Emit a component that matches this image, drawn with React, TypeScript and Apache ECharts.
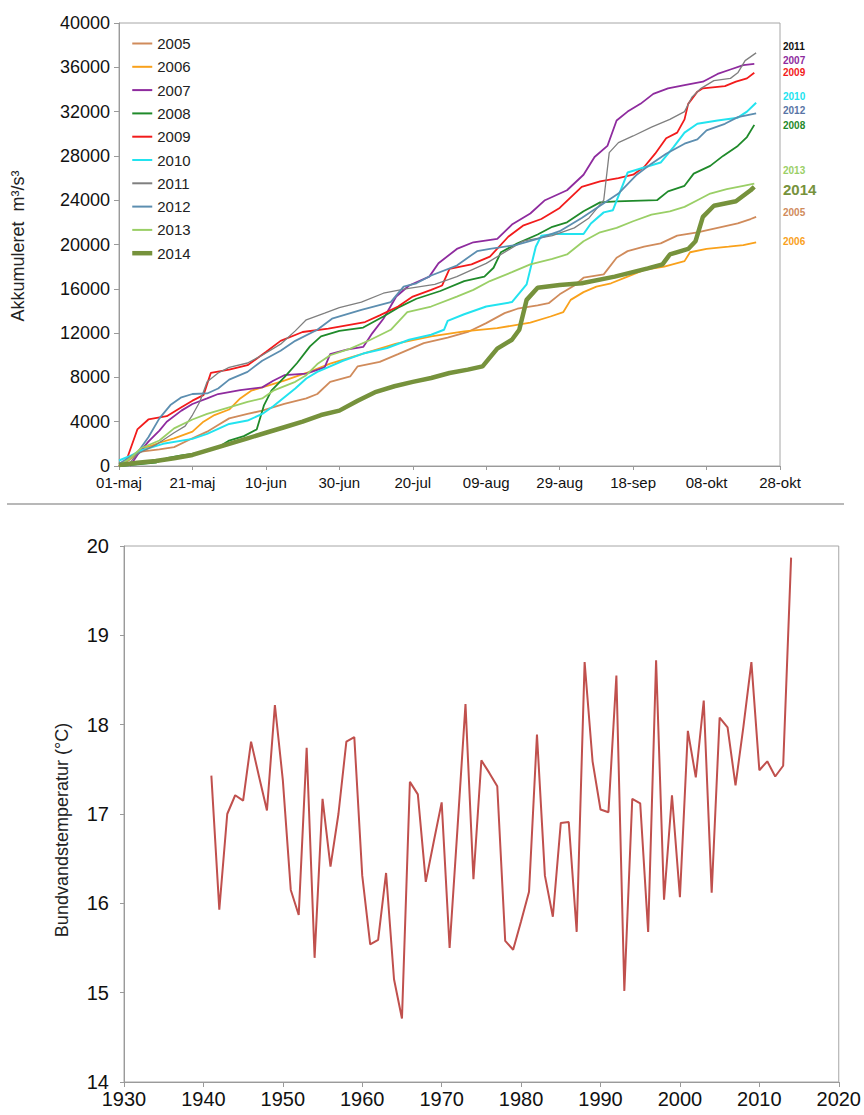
import React, { useEffect, useRef } from "react";
import * as echarts from "echarts";

// ---------- Top chart: accumulated discharge (day since 01-maj, m3/s3) ----------
const DATE_TICKS = ["01-maj", "21-maj", "10-jun", "30-jun", "20-jul", "09-aug", "29-aug", "18-sep", "08-okt", "28-okt"];

const flow2005 = [[0,0],[3,600],[6,1300],[11,1500],[15,1700],[20,2500],[24,3100],[27,3700],[30,4300],[35,4700],[39,5000],[45,5600],[51,6100],[54,6500],[57.5,7600],[63,8100],[65,9000],[71,9400],[76,10100],[83,11100],[89.5,11600],[95,12100],[100,12900],[105,13800],[108.5,14200],[114,14500],[117,14700],[120,15500],[124,16300],[126.5,17000],[132,17300],[135.5,18800],[138.5,19400],[143,19800],[147.5,20100],[152,20800],[157.5,21100],[163,21500],[168.5,21900],[172,22300],[173.5,22500]];
const flow2006 = [[0,0],[3,700],[6,1500],[11,2100],[15,2500],[20,3100],[23,4000],[26,4600],[30,5100],[33,6100],[36,6800],[39,7100],[45,7700],[51,8400],[57.5,9250],[66.5,10150],[75.5,11050],[85,11700],[94,12150],[103,12450],[112,12950],[117.5,13500],[121,13900],[123,15000],[126.5,15700],[130,16200],[134,16500],[138.5,17100],[143,17700],[148.5,18000],[154,18500],[155.5,19300],[160,19600],[166,19800],[170,19950],[173.5,20200]];
const flow2007 = [[3,0],[5,1000],[8,2200],[11,3200],[13,4000],[17,5000],[20,5600],[24,6100],[27,6500],[33,6850],[39,7100],[42,7700],[45,8200],[51,8350],[56,8900],[57.5,10100],[62,10500],[66.5,10750],[69,12000],[72,13300],[75.5,15300],[79,16300],[84.5,17100],[87,18300],[92,19600],[96.5,20200],[103,20500],[107,21800],[112,22800],[116,24000],[122,24900],[126.5,26300],[129.5,27900],[133,28900],[135.5,31200],[138.5,32000],[142,32700],[145.5,33600],[149.5,34100],[154,34400],[159,34700],[163,35400],[166.5,35800],[170,36200],[173,36300]];
const flow2008 = [[0,0],[5,150],[10,300],[13,700],[17,950],[20,1100],[24,1400],[27,1700],[30,2300],[34,2700],[37.5,3300],[39.5,5500],[41.5,6800],[45,8000],[48.5,9300],[52,10800],[55,11700],[60,12200],[66.5,12500],[72,13500],[76,14300],[81,15100],[87.5,15800],[94,16700],[99.5,17100],[102,17900],[104,19300],[108.5,20100],[114,20900],[118,21600],[122,22000],[126.5,23000],[131,23800],[135.5,23900],[146.5,24000],[149.5,24800],[154,25300],[156.5,26400],[161,27100],[164.5,28000],[168.5,28900],[171,29700],[173,30800]];
const flow2009 = [[0,0],[2,500],[5,3300],[8,4200],[13,4500],[17,5300],[20,5900],[23,6400],[25,8400],[30,8700],[35,9100],[40,10300],[44,11300],[50,12100],[57,12400],[67,13000],[71,13600],[76,14400],[80,15300],[85,15900],[88,16300],[90,17800],[96,18200],[101,18900],[106,20700],[110,21700],[115,22300],[120,23300],[126,25200],[131,25700],[136,26000],[140,26300],[143,27000],[146,28200],[149,29600],[152,30100],[154,31300],[155,32700],[157.5,33800],[159,34100],[165,34300],[168,34700],[171,35000],[173,35500]];
const flow2010 = [[0,500],[3,900],[6,1400],[12,2000],[20,2450],[24,2900],[27,3350],[30,3800],[35,4100],[39,4700],[42,5400],[48,7000],[51,7900],[54,8500],[57.5,9000],[61,9500],[66.5,10150],[73,10650],[79,11400],[85,11850],[88.5,12300],[89.5,13100],[94,13700],[100,14400],[107,14800],[111,16400],[113.5,19800],[115,20800],[118.5,20950],[126.5,20950],[128.5,21900],[132,22900],[134.5,23100],[138.5,26500],[143,26950],[147.5,27400],[151,28800],[154,30100],[157.5,30900],[163,31200],[168.5,31450],[171,32000],[173.5,32800]];
const flow2011 = [[0,0],[3,300],[5,1100],[10,1900],[15,3000],[18,3600],[20,4600],[22,5800],[24,7600],[27,8400],[30,8900],[35,9300],[39,10000],[44,11000],[48,12200],[51,13200],[56,13800],[60,14300],[66,14800],[72,15600],[78,16000],[86,16400],[92,17100],[100,18300],[110,20300],[118,20800],[124,21500],[128,22400],[132,24000],[133.5,28300],[136,29200],[140,29800],[145,30600],[150,31300],[154,32000],[156,33300],[158.5,34100],[162,34800],[166.5,35000],[168.5,35500],[170.5,36600],[173.5,37300]];
const flow2012 = [[0,200],[5,1200],[8,2600],[11,4300],[14,5500],[17,6200],[20,6500],[24,6550],[27,7000],[30,7800],[35,8500],[39,9500],[44,10400],[48,11300],[54,12300],[58,13300],[66,14100],[74,14800],[77.5,16200],[81,16500],[85,17200],[92,18100],[97.5,19400],[101,19600],[108,19950],[114,20500],[120,21200],[126,22400],[131,23500],[136,24600],[141,26300],[145,27300],[149,28200],[154,29100],[157.5,29500],[160,30300],[165,30900],[168.5,31500],[173.5,31850]];
const flow2013 = [[0,0],[3,700],[6,1600],[11,2300],[15,3400],[20,4200],[24,4700],[27,5000],[30,5300],[35,5800],[39,6100],[42,6800],[48,7600],[51,8200],[54,9200],[57.5,10000],[63,10600],[68.5,11400],[74,12300],[78.5,13900],[85,14400],[92,15300],[96.5,15900],[101,16700],[107,17500],[112,18200],[118,18700],[122,19100],[126.5,20300],[131,21100],[135.5,21500],[140,22100],[145,22700],[150,23000],[154,23400],[157.5,24000],[161,24600],[165.5,25000],[170,25300],[173,25500]];
const flow2014 = [[0,100],[5,300],[10,450],[15,700],[20,1000],[25,1500],[30,2000],[35,2500],[40,3000],[45,3500],[50,4000],[55,4600],[60,5000],[65,5900],[70,6700],[75,7200],[80,7600],[85,7950],[90,8400],[95,8700],[99,9000],[103,10600],[107,11400],[109,12300],[111,15000],[114,16100],[120,16350],[126,16500],[135,17100],[144,17850],[148,18200],[150,19100],[155,19600],[157,20300],[159,22500],[162,23500],[168,23900],[172,24900],[173,25200]];

const YEARS = ["2005", "2006", "2007", "2008", "2009", "2010", "2011", "2012", "2013", "2014"];
const FLOWS = [flow2005, flow2006, flow2007, flow2008, flow2009, flow2010, flow2011, flow2012, flow2013, flow2014];
const COLORS = ["#D08B5B", "#F9A11B", "#8E2B9E", "#1F8A2A", "#F21B1B", "#22E3EF", "#7F7F7F", "#5C8EB0", "#9ACF66", "#76923C"];
const WIDTHS = [1.8, 1.8, 1.8, 1.8, 1.8, 2, 1.3, 1.8, 1.8, 4.5];

// end labels at the right of the top chart
const END_LABELS = ["2011", "2007", "2009", "2010", "2012", "2008", "2013", "2014", "2005", "2006"];
const END_LABEL_COLORS = ["#111111", "#8E2B9E", "#F21B1B", "#22E3EF", "#5874A5", "#1F8A2A", "#9ACF66", "#76923C", "#D08B5B", "#F9A11B"];

// ---------- Bottom chart: bottom water temperature ----------
const FIRST_YEAR = 1941;
const temps = [
  17.43, 15.93, 17.0, 17.21, 17.15, 17.81, 17.42, 17.04, 18.22, 17.38,
  16.15, 15.87, 17.74, 15.39, 17.17, 16.41, 17.0, 17.81, 17.86, 16.31,
  15.54, 15.59, 16.34, 15.15, 14.71, 17.36, 17.22, 16.24, 16.69, 17.13,
  15.5, 16.85, 18.23, 16.27, 17.6, 17.46, 17.31, 15.58, 15.48, 15.8,
  16.13, 17.89, 16.31, 15.85, 16.9, 16.91, 15.68, 18.7, 17.59, 17.05,
  17.02, 18.55, 15.02, 17.17, 17.12, 15.68, 18.72, 16.04, 17.21, 16.07,
  17.93, 17.41, 18.27, 16.12, 18.08, 17.97, 17.32, 17.98, 18.7, 17.49,
  17.59, 17.42, 17.54, 19.87,
];

const FONT = "'Liberation Sans', Arial, sans-serif";

export default function App() {
  const ref = useRef<HTMLDivElement>(null);

  useEffect(() => {
    if (!ref.current) return;
    const chart = echarts.init(ref.current, undefined, { renderer: "svg" });

    const topSeries = YEARS.map((name, i) => ({
      name,
      type: "line",
      xAxisIndex: 0,
      yAxisIndex: 0,
      data: FLOWS[i],
      showSymbol: false,
      symbol: "none",
      lineStyle: { color: COLORS[i], width: WIDTHS[i] },
      itemStyle: { color: COLORS[i] },
      z: i === 9 ? 5 : 3,
    }));

    const tempData = temps.map((t, i) => [FIRST_YEAR + i, t]);

    const endLabelY = [46, 60, 72, 96, 110, 125, 170, 189, 212, 241];
    const endLabelGraphics = END_LABELS.map((t, i) => ({
      type: "text",
      x: 783,
      y: endLabelY[i],
      style: {
        text: t,
        fill: END_LABEL_COLORS[i],
        font: t === "2014" ? `bold 15px ${FONT}` : `bold 10px ${FONT}`,
        verticalAlign: "middle",
        align: "left",
      },
    }));

    const axisLineStyle = { color: "#9a9a9a", width: 1 };

    chart.setOption({
      animation: false,
      backgroundColor: "#ffffff",
      textStyle: { fontFamily: FONT },
      grid: [
        { left: 119, top: 23, width: 661, height: 443, show: true, borderColor: "#a6a6a6", borderWidth: 1, backgroundColor: "transparent" },
        { left: 124, top: 546, width: 716, height: 536, show: true, borderColor: "#a6a6a6", borderWidth: 1, backgroundColor: "transparent" },
      ],
      legend: {
        data: YEARS.map((name, i) => ({ name, lineStyle: { width: i === 9 ? 4.5 : 2 } })),
        orient: "vertical",
        left: 130,
        top: 36,
        padding: 0,
        itemWidth: 20,
        itemHeight: 14,
        itemGap: 8.3,
        selectedMode: false,
        itemStyle: { opacity: 0 },
        textStyle: { fontSize: 15, color: "#222", lineHeight: 15, fontFamily: FONT },
      },
      xAxis: [
        {
          type: "value",
          gridIndex: 0,
          min: 0,
          max: 180,
          interval: 20,
          axisLine: { show: true, lineStyle: axisLineStyle },
          axisTick: { show: true, length: 4, lineStyle: axisLineStyle },
          axisLabel: {
            fontSize: 15,
            color: "#111",
            margin: 9,
            formatter: (v: number) => DATE_TICKS[Math.round(v / 20)] ?? "",
          },
          splitLine: { show: false },
        },
        {
          type: "value",
          gridIndex: 1,
          min: 1930,
          max: 2020,
          interval: 10,
          axisLine: { show: true, lineStyle: axisLineStyle },
          axisTick: { show: true, length: 5, lineStyle: axisLineStyle },
          axisLabel: { fontSize: 20, color: "#111", margin: 7, formatter: (v: number) => String(v) },
          splitLine: { show: false },
        },
      ],
      yAxis: [
        {
          type: "value",
          gridIndex: 0,
          min: 0,
          max: 40000,
          interval: 4000,
          axisLine: { show: true, lineStyle: axisLineStyle },
          axisTick: { show: true, length: 5, lineStyle: axisLineStyle },
          axisLabel: { fontSize: 18, color: "#111", margin: 9, formatter: (v: number) => String(v) },
          splitLine: { show: false },
        },
        {
          type: "value",
          gridIndex: 1,
          min: 14,
          max: 20,
          interval: 1,
          axisLine: { show: true, lineStyle: axisLineStyle },
          axisTick: { show: true, length: 4, lineStyle: axisLineStyle },
          axisLabel: { fontSize: 20, color: "#111", margin: 15, formatter: (v: number) => String(v) },
          splitLine: { show: false },
        },
      ],
      series: [
        ...topSeries,
        {
          name: "Bundvandstemperatur",
          type: "line",
          xAxisIndex: 1,
          yAxisIndex: 1,
          data: tempData,
          showSymbol: false,
          symbol: "none",
          lineStyle: { color: "#C0504D", width: 2 },
          itemStyle: { color: "#C0504D" },
        },
      ],
      graphic: [
        {
          type: "line",
          shape: { x1: 7, y1: 504, x2: 844, y2: 504 },
          style: { stroke: "#a0a0a0", lineWidth: 1.5 },
        },
        {
          type: "text",
          x: 18,
          y: 246,
          rotation: Math.PI / 2,
          style: {
            text: "Akkumuleret  m³/s³",
            fill: "#222",
            font: `18px ${FONT}`,
            align: "center",
            verticalAlign: "middle",
          },
        },
        {
          type: "text",
          x: 62,
          y: 830,
          rotation: Math.PI / 2,
          style: {
            text: "Bundvandstemperatur (°C)",
            fill: "#222",
            font: `18px ${FONT}`,
            align: "center",
            verticalAlign: "middle",
          },
        },
        ...endLabelGraphics,
      ],
    });

    return () => chart.dispose();
  }, []);

  return (
    <div
      ref={ref}
      style={{ position: "absolute", left: 0, top: 0, width: 864, height: 1115, background: "#fff" }}
    />
  );
}
